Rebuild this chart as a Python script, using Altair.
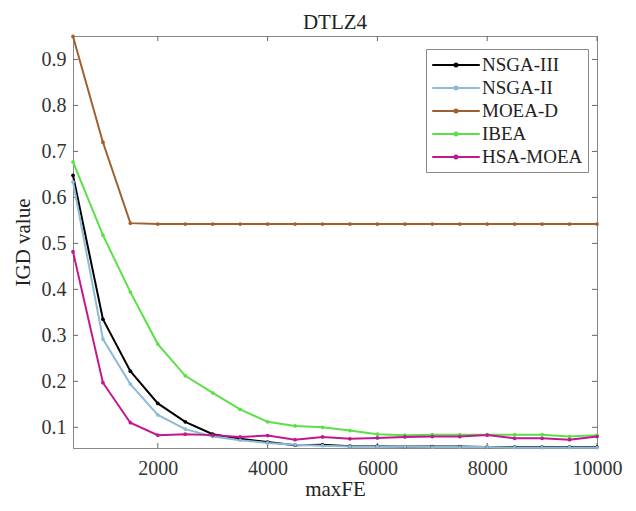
import altair as alt
import pandas as pd

xs = [455, 1000, 1500, 2000, 2500, 3000, 3500, 4000, 4500, 5000,
      5500, 6000, 6500, 7000, 7500, 8000, 8500, 9000, 9500, 10000]

nsga3 = [0.648, 0.335, 0.222, 0.152, 0.112, 0.085, 0.075, 0.068, 0.061, 0.062,
         0.059, 0.059, 0.058, 0.058, 0.058, 0.057, 0.057, 0.057, 0.057, 0.057]
nsga2 = [0.634, 0.292, 0.194, 0.127, 0.096, 0.080, 0.072, 0.066, 0.062, 0.060,
         0.058, 0.058, 0.058, 0.057, 0.057, 0.057, 0.056, 0.056, 0.056, 0.056]
moead = [0.950, 0.720, 0.544, 0.542, 0.542, 0.542, 0.542, 0.542, 0.542, 0.542,
         0.542, 0.542, 0.542, 0.542, 0.542, 0.542, 0.542, 0.542, 0.542, 0.542]
ibea = [0.677, 0.518, 0.394, 0.281, 0.212, 0.175, 0.139, 0.112, 0.103, 0.100,
        0.093, 0.085, 0.083, 0.084, 0.084, 0.084, 0.084, 0.084, 0.080, 0.083]
hsa = [0.482, 0.197, 0.110, 0.083, 0.085, 0.083, 0.079, 0.082, 0.073, 0.079,
       0.075, 0.077, 0.079, 0.080, 0.080, 0.083, 0.076, 0.076, 0.073, 0.080]

names = ["NSGA-III", "NSGA-II", "MOEA-D", "IBEA", "HSA-MOEA"]
colors = ["#000000", "#8dbbd6", "#a0602d", "#5ce048", "#c2188f"]
series = [nsga3, nsga2, moead, ibea, hsa]

x_ticks = [2000, 4000, 6000, 8000, 10000]
y_ticks = [0.1, 0.2, 0.3, 0.4, 0.5, 0.6, 0.7, 0.8, 0.9]

rows = []
for i, (n, vals) in enumerate(zip(names, series)):
    for x, v in zip(xs, vals):
        rows.append({"alg": n, "order": i, "maxFE": x, "IGD": v})
df = pd.DataFrame(rows)

W, H = 524, 412
FONT = "Liberation Serif"
xscale = alt.Scale(domain=[455, 10000], nice=False, zero=False)
yscale = alt.Scale(domain=[0.055, 0.951], nice=False, zero=False)

legend_symbol = ("M-2.5,0H2.5M-0.15,0A0.15,0.15,0,1,0,0.15,0"
                 "A0.15,0.15,0,1,0,-0.15,0")

lines = alt.Chart(df).mark_line(
    strokeWidth=2,
    point=alt.OverlayMarkDef(filled=True, size=14),
).encode(
    x=alt.X("maxFE:Q", scale=xscale,
            axis=alt.Axis(values=x_ticks, title="maxFE", tickSize=0,
                          format="d",
                          labelPadding=10, titlePadding=0, grid=False,
                          labelFontSize=20, titleFontSize=21)),
    y=alt.Y("IGD:Q", scale=yscale,
            axis=alt.Axis(values=y_ticks, title="IGD value", tickSize=0,
                          labelPadding=7, titlePadding=8, grid=False,
                          format=".1f", labelFontSize=20, titleFontSize=21)),
    color=alt.Color("alg:N", scale=alt.Scale(domain=names, range=colors),
                    legend=alt.Legend(
                        title=None, orient="none", legendX=353, legendY=13,
                        symbolType=legend_symbol, symbolSize=361,
                        symbolOffset=14, labelOffset=15,
                        symbolStrokeWidth=2.2, labelFontSize=19,
                        labelFont=FONT, rowPadding=2, padding=5,
                        strokeColor="#888888", fillColor="white",
                        labelColor="#222222", labelLimit=300)),
    order="order:Q",
    detail="alg:N",
)

xt = pd.DataFrame({"t": x_ticks})
yt = pd.DataFrame({"t": y_ticks})
tick_color = "#666666"
bt = alt.Chart(xt).mark_rule(color=tick_color, strokeWidth=1).encode(
    x=alt.X("t:Q", scale=xscale), y=alt.value(H), y2=alt.value(H - 5))
tt = alt.Chart(xt).mark_rule(color=tick_color, strokeWidth=1).encode(
    x=alt.X("t:Q", scale=xscale), y=alt.value(0), y2=alt.value(5))
lt = alt.Chart(yt).mark_rule(color=tick_color, strokeWidth=1).encode(
    y=alt.Y("t:Q", scale=yscale), x=alt.value(0), x2=alt.value(5))
rt = alt.Chart(yt).mark_rule(color=tick_color, strokeWidth=1).encode(
    y=alt.Y("t:Q", scale=yscale), x=alt.value(W - 5), x2=alt.value(W))

chart = alt.layer(bt, tt, lt, rt, lines).properties(
    width=W, height=H,
    title=alt.Title("DTLZ4", fontSize=21, font=FONT, fontWeight="normal",
                    color="#222222", offset=-1),
    autosize=alt.AutoSizeParams(type="none"),
    padding={"left": 65, "top": 28, "right": 30, "bottom": 60},
).configure_view(
    stroke="#888888", strokeWidth=1
).configure_axis(
    labelFont=FONT, titleFont=FONT, labelColor="#333333", titleColor="#222222",
    titleFontWeight="normal", domainColor="#888888", labelFlush=False
)

chart.save("out.html", embed_options={"renderer": "svg", "actions": False})
